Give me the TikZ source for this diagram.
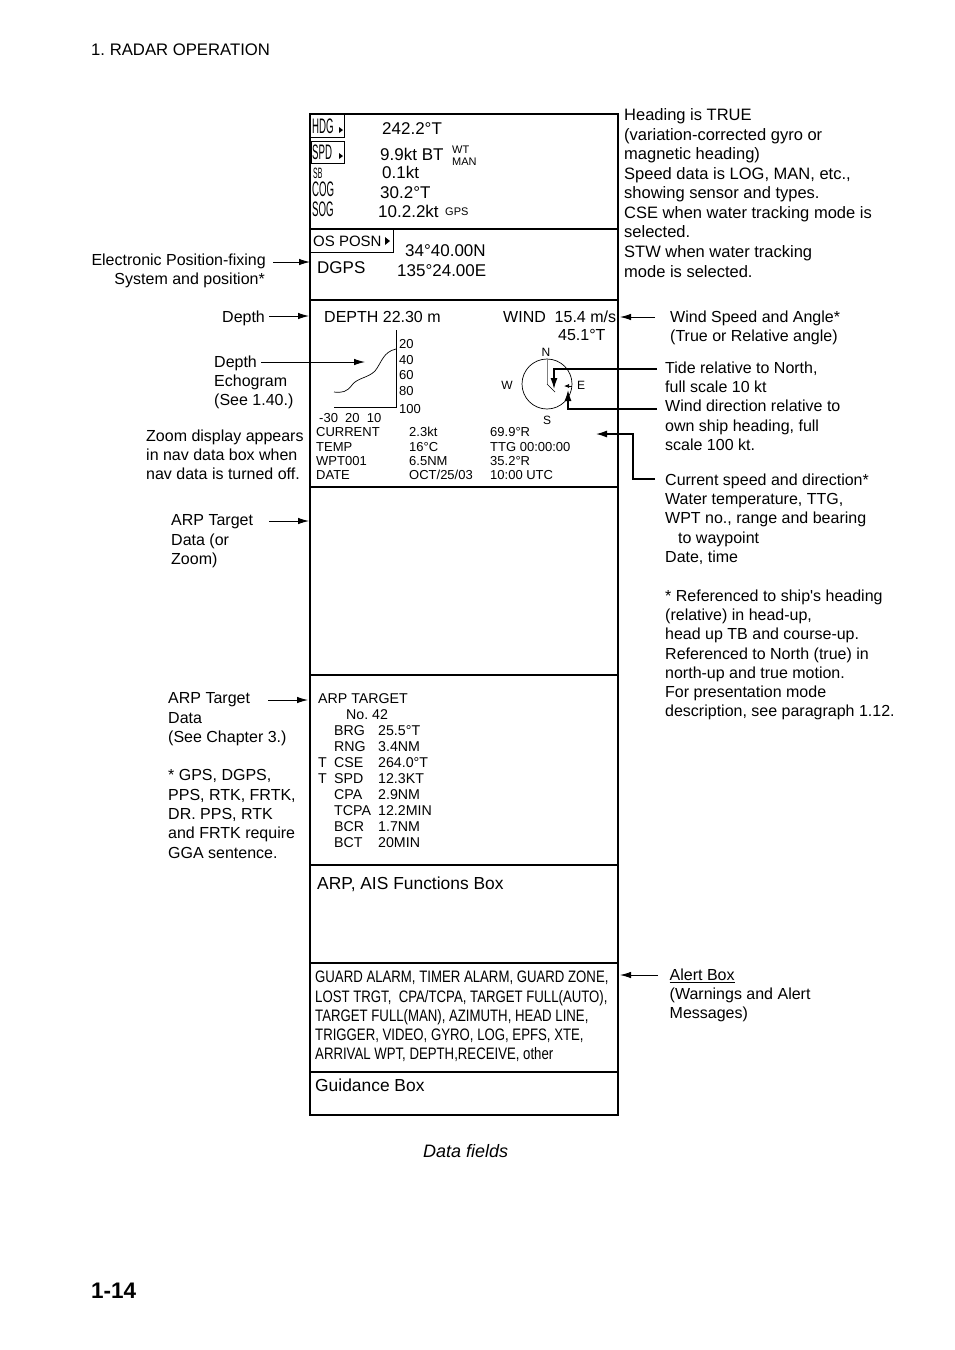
\documentclass[tikz,border=0pt]{standalone}
\usepackage{fontspec}
\setmainfont{Liberation Sans}
\newfontfamily\condfont[FakeStretch=0.795]{Liberation Sans}
\newfontfamily\narrowfont[FakeStretch=0.46]{Liberation Sans}
\usetikzlibrary{arrows.meta,positioning,calc}
\tikzset{
	txt/.style={anchor=base west,inner sep=0pt,font=\fontsize{16}{19.3}\selectfont},
	bigtxt/.style={anchor=base west,inner sep=0pt,font=\fontsize{17.4}{19.3}\selectfont},
	note/.style={anchor=north west,inner sep=0pt,yshift=-1.5pt,align=left,font=\fontsize{16}{19.3}\selectfont},
	readout/.style={anchor=base west,inner sep=0pt,font=\fontsize{17}{19}\selectfont},
	tiny/.style={anchor=base west,inner sep=0pt,font=\fontsize{11}{12}\selectfont},
	dat/.style={anchor=base west,inner sep=0pt,font=\fontsize{13}{14}\selectfont},
	arp/.style={anchor=base west,inner sep=0pt,font=\fontsize{14.2}{16}\selectfont},
	cond/.style={anchor=base west,inner sep=0pt,font=\narrowfont\fontsize{21}{22}\selectfont},
	alarm/.style={anchor=north west,inner sep=0pt,yshift=-1pt,align=left,font=\condfont\fontsize{16.6}{19.2}\selectfont},
	cpt/.style={inner sep=0pt,font=\fontsize{12}{13}\selectfont},
	frame/.style={line width=1.7pt},
	ptr/.style={-{Latex[length=11pt,width=6.5pt]},line width=0.9pt},
	ptrb/.style={-{Latex[length=11pt,width=7pt]},line width=1.3pt}
}
\frenchspacing
\begin{document}
\begin{tikzpicture}[x=1pt,y=-1pt]
	\useasboundingbox (0,0) rectangle (954,1350);
	\node[txt,font=\fontsize{16.7}{19}\selectfont] (header) at (91,55) {1. RADAR OPERATION};
	\node[anchor=base west,inner sep=0pt,font=\bfseries\fontsize{22.5}{26}\selectfont] (pageno) at (91,1298) {1-14};
	\node[anchor=base west,inner sep=0pt,font=\itshape\fontsize{18}{20}\selectfont] (caption) at (423,1157) {Data fields};

	% Main box
	\draw[frame] (310,114) rectangle (618,1115);
	\foreach \y in {229,300,487,675,865,963,1072}
		\draw[frame] (310,\y)--(618,\y);

	% Heading and speed
	\draw[line width=0.9pt] (311,114)--(344,114)--(344,137)--(311,137);
	\draw[line width=0.9pt] (311,141) rectangle (344,163);
	\draw[line width=0.9pt] (393,229)--(393,252)--(311,252);
	\fill (339,127)--(343,130)--(339,133)--cycle;
	\fill (339,153)--(343,156)--(339,159)--cycle;
	\fill (385,237)--(390,241)--(385,245)--cycle;
	\node[cond] (hdg) at (312,133) {HDG};
	\node[cond] (spd) at (312,159) {SPD};
	\node[cond,font=\narrowfont\fontsize{15}{16}\selectfont] (sb) at (313,178) {SB};
	\node[cond] (cog) at (312,196) {COG};
	\node[cond] (sog) at (312,216) {SOG};
	\node[readout] (hdgval) at (382,134) {242.2°T};
	\node[readout] (spdval) at (380,160) {9.9kt BT};
	\node[readout] (sbval) at (382,178) {0.1kt};
	\node[readout] (cogval) at (380,198) {30.2°T};
	\node[readout] (sogval) at (378,217) {10.2.2kt};
	\node[tiny] (wt) at (452,153) {WT};
	\node[tiny] (man) at (452,165) {MAN};
	\node[tiny] (gps) at (445,215) {GPS};

	% Position
	\node[anchor=base west,inner sep=0pt,font=\fontsize{15}{16}\selectfont] (posn) at (313,246) {OS POSN};
	\node[readout] (dgps) at (317,273) {DGPS};
	\node[readout] (lat) at (405,256) {34°40.00N};
	\node[readout] (lon) at (397,276) {135°24.00E};

	% Depth and wind
	\node[txt] (depth) at (324,322) {DEPTH 22.30 m};
	\node[txt] (wind) at (503,322) {WIND\ \ 15.4 m/s};
	\node[txt] (windang) at (558,340) {45.1°T};
	\coordinate (gtop) at (396,330);
	\coordinate (gcorner) at (396,407);
	\coordinate (gleft) at (334,407);
	\draw[line width=0.8pt] (gtop)--(gcorner)--(gleft);
	\draw[line width=0.7pt] (334,392) .. controls (342,393) and (347,392) .. (352,385) .. controls (357,378) and (368,378) .. (375,371) .. controls (382,362) and (383,352) .. (396,349);
	\foreach \lab/\y in {20/348,40/364,60/379,80/395,100/413}
		\node[dat] (d\lab) at (399,\y) {\lab};
	\node[dat] (dscale) at (319,422) {-30\ \ 20\ \ 10};

	% Compass
	\coordinate (cc) at (547,384);
	\draw[line width=0.7pt] (cc) circle (25);
	\draw[gray,line width=1pt] (547,359)--(cc);
	\draw[line width=0.7pt] (cc)--(555,392);
	\coordinate (cE) at (572,386);
	\coordinate (cEt) at (564,386);
	\draw[-{Latex[length=5pt,width=4pt]},line width=0.7pt] (cE)--(cEt);
	\node[cpt] (cn) at (546,352) {N};
	\node[cpt] (cs) at (547,420) {S};
	\node[cpt] (cw) at (507,385) {W};
	\node[cpt] (ce) at (581,385) {E};

	% Nav data
	\foreach \a/\b/\c/\y in {CURRENT/2.3kt/69.9°R/436,TEMP/16°C/TTG 00:00:00/451,WPT001/6.5NM/35.2°R/465,DATE/OCT\slash 25\slash 03/10:00 UTC/479}{
		\node[dat] at (316,\y) {\a};
		\node[dat] at (409,\y) {\b};
		\node[dat] at (490,\y) {\c};
	}

	% ARP target
	\node[arp] (arphead) at (318,703) {ARP TARGET};
	\node[arp] (arpno) at (346,719) {No. 42};
	\foreach \a/\b/\y in {BRG/25.5°T/735,RNG/3.4NM/751,CSE/264.0°T/767,SPD/12.3KT/783,CPA/2.9NM/799,TCPA/12.2MIN/815,BCR/1.7NM/831,BCT/20MIN/847}{
		\node[arp] at (334,\y) {\a};
		\node[arp] at (378,\y) {\b};
	}
	\node[arp] (tcse) at (318,767) {T};
	\node[arp] (tspd) at (318,783) {T};

	% Lower boxes
	\node[bigtxt] (funcs) at (317,889) {ARP, AIS Functions Box};
	\node[alarm] (alarms) at (315,970) {GUARD ALARM, TIMER ALARM, GUARD ZONE,\\LOST TRGT,\ \ CPA/TCPA, TARGET FULL(AUTO),\\TARGET FULL(MAN), AZIMUTH, HEAD LINE,\\TRIGGER, VIDEO, GYRO, LOG, EPFS, XTE,\\ARRIVAL WPT, DEPTH,RECEIVE, other};
	\node[bigtxt] (guide) at (315,1091) {Guidance Box};

	% Right notes
	\node[note,font=\fontsize{16.5}{19.55}\selectfont] (nhead) at (624,107) {Heading is TRUE\\(variation-corrected gyro or\\magnetic heading)\\Speed data is LOG, MAN, etc.,\\showing sensor and types.\\CSE when water tracking mode is\\selected.\\STW when water tracking\\mode is selected.};
	\node[note] (nwind) at (670,309) {Wind Speed and Angle*\\(True or Relative angle)};
	\node[note] (ntide) at (665,360) {Tide relative to North,\\full scale 10 kt\\Wind direction relative to\\own ship heading, full\\scale 100 kt.};
	\node[note] (ncur) at (665,472) {Current speed and direction*\\Water temperature, TTG,\\WPT no., range and bearing\\\hspace*{13pt}to waypoint\\Date, time\\[19.3pt]* Referenced to ship\textquotesingle s heading\\(relative) in head-up,\\head up TB and course-up.\\Referenced to North (true) in\\north-up and true motion.\\For presentation mode\\description, see paragraph 1.12.};
	\node[note] (nalert) at (669.5,967) {\underline{Alert Box}\\(Warnings and Alert\\Messages)};

	% Left notes
	\node[note,align=right,anchor=north east] (lepfs) at (266,252) {Electronic Position-fixing\\System and position*\hspace*{1pt}};
	\node[note] (ldepth) at (222,309) {Depth};
	\node[note] (lecho) at (214,354) {Depth\\Echogram\\(See 1.40.)};
	\node[note] (lzoom) at (146,428) {Zoom display appears\\in nav data box when\\nav data is turned off.};
	\node[note] (lzdata) at (171,513) {ARP Target\\Data (or\\Zoom)};
	\node[note] (larp) at (168,691) {ARP Target\\Data\\(See Chapter 3.)\\[19.3pt]* GPS, DGPS,\\PPS, RTK, FRTK,\\DR. PPS, RTK\\and FRTK require\\GGA sentence.};

	% Arrow ends
	\coordinate (tepfs) at (310,262);
	\coordinate (tdepth) at (309,316);
	\coordinate (techo) at (365,362);
	\coordinate (tzdata) at (309,521);
	\coordinate (tarp) at (308,700);
	\coordinate (twind) at (620,317);
	\coordinate (talert) at (620,975);
	\coordinate (ttide) at (554,389);
	\coordinate (tdir) at (568,390);
	\coordinate (tcur) at (596,434);

	% Arrows
	\draw[ptr] (273,262)--(tepfs);
	\draw[ptr] (269,316)--(tdepth);
	\draw[ptr] (261,362)--(techo);
	\draw[ptr] (269,521)--(tzdata);
	\draw[ptr] (268,700)--(tarp);
	\draw[ptr] (655,317)--(twind);
	\draw[ptr] (658,975)--(talert);
	\draw[ptrb] (657,369)-|(ttide);
	\draw[ptrb] (657,409)-|(tdir);
	\draw[ptrb] (655,479)--(633,479)--(633,434)--(tcur);
\end{tikzpicture}
\end{document}
